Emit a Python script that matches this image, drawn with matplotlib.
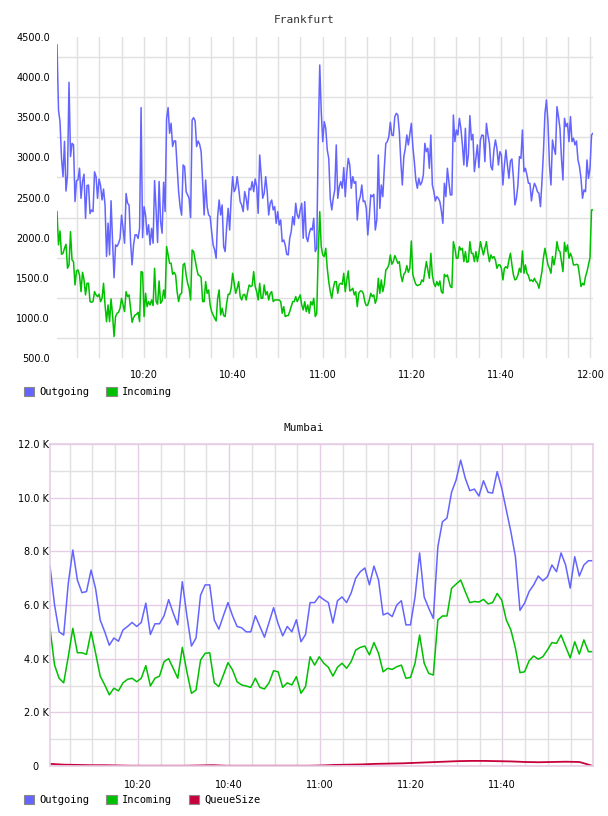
"""Frankfurt / Mumbai traffic charts (outgoing, incoming, queue size)."""

import matplotlib
matplotlib.use("Agg")
import matplotlib.pyplot as plt
import matplotlib.dates as mdates
from matplotlib.patches import Patch
from matplotlib.ticker import FixedLocator, MultipleLocator, FuncFormatter
import numpy as np
import pandas as pd

# ── data ────────────────────────────────────────────────────────────
FRA_START, FRA_END = "2024-01-01 10:00:31", "2024-01-01 12:00:35"
BOM_START, BOM_END = "2024-01-01 10:00:40", "2024-01-01 11:59:55"

fra_outgoing = [
    4400, 3590, 3445, 2990, 2760, 3200, 2580, 2780, 3935, 3010,
    3175, 3155, 2450, 2710, 2720, 2865, 2490, 2700, 2790, 2240,
    2650, 2655, 2300, 2345, 2325, 2820, 2760, 2490, 2730, 2650,
    2470, 2605, 2405, 1765, 2180, 1785, 2460, 1950, 1500, 1910,
    1890, 1930, 1990, 2280, 2115, 1930, 2550, 2430, 2405, 1950,
    1660, 1910, 2035, 2035, 1990, 2115, 3620, 2000, 2385, 2280,
    2035, 2160, 1910, 2115, 1930, 2710, 2345, 1940, 2700, 2200,
    2055, 2690, 2325, 3485, 3620, 3300, 3425, 3135, 3205, 3205,
    2885, 2575, 2385, 2280, 2905, 2885,
    2573, 2532, 2490, 2249, 3466, 3495, 3454, 3134, 3204, 3163,
    3071, 2698, 2282, 2718, 2386, 2282, 2262, 2075, 1909, 1846,
    1743, 2262, 2469, 2282, 2407, 1888, 1826, 2137, 2365, 2095,
    2490, 2760, 2573, 2615, 2760, 2615, 2448, 2407, 2324, 2573,
    2490, 2345, 2615, 2594, 2698, 2573, 2731, 2636, 2303, 3030,
    2781, 2490, 2552, 2760, 2573, 2282, 2428, 2469, 2345, 2386,
    2179, 2324, 2158, 2220, 1950, 1971, 1909, 1792, 1784, 1992,
    2075, 2262, 2158, 2428, 2282, 2241, 2345, 2428, 1992, 2448,
    2013, 1950, 2054, 2116, 2095, 2241, 1826, 1867, 3238, 4151,
    3570, 3196, 3445, 3362, 3092, 2988, 2490, 2345, 2490, 2594,
    3155, 2490, 2636, 2698, 2615, 2872, 2511, 2801, 2988, 2905,
    2615, 2760, 2677, 2698, 2220, 2448, 2511, 2656, 2448, 2457,
    2365, 2033, 2262, 2532, 2511, 2540, 2095, 2220, 3030, 2365,
    2656, 2511, 2864, 3175, 3196, 3258, 3437, 3279, 3271, 3508,
    3549, 3528, 3321, 2947, 2656, 3009, 3113, 3279, 3155, 3287,
    3424, 3134, 2947, 2718, 2615, 2739, 2656, 2689, 2781, 3175,
    3071, 3113, 2864, 3279, 2656, 2573, 2457, 2511, 2490, 2448,
    2332, 2179, 2677, 2511, 2864, 2698, 2532, 2532, 3528, 3196,
    3341, 3279, 3487, 3362, 3155, 2905, 3362, 2885, 3030, 3520,
    3217, 3287, 2822, 2988, 3155, 2872, 3217, 3279, 3271, 2947,
    3424, 3279, 3175, 2885, 2843, 3092, 3217, 3113, 2905, 3071,
    3030, 2656, 2905, 3092, 2905, 2739, 2955, 2980, 2739, 2407,
    2490, 2656, 3009, 2988, 3341, 2822, 2864, 2781, 2677, 2677,
    2457, 2594, 2677, 2636, 2573, 2552, 2386, 2698, 3071, 3549,
    3715, 3445, 2905, 2656, 3217, 3113, 3038, 3632, 3508, 3362,
    2988, 2718, 3487, 3383, 3424, 3196, 3508, 3196, 3238, 3155,
    3204, 2968, 2885, 2739, 2490, 2594, 2573, 2968, 2739, 2864,
    3279, 3300,
]

fra_incoming = [
    2324, 1910, 2083, 1792, 1805, 1867, 1917, 1618, 1660, 2075,
    1722, 1701, 1410, 1585, 1597, 1535, 1327, 1568, 1473, 1286,
    1431, 1431, 1203, 1194, 1203, 1327, 1286, 1265, 1294, 1203,
    1244, 1431, 1161, 953, 1161, 953, 1236, 1036, 767, 1016,
    1057, 1070, 1120, 1244, 1161, 1078, 1327, 1265, 1286, 1120,
    945, 1003, 1036, 1045, 1070, 953, 1576, 1568, 1016, 1306,
    1140, 1203, 1161, 1223, 1153, 1618, 1203, 1170, 1460, 1182,
    1211, 1348, 1244, 1888, 1784, 1680, 1680, 1543, 1568, 1535,
    1327, 1203, 1294, 1306, 1660, 1680,
    1535, 1431, 1369, 1223, 1846, 1826, 1722, 1618, 1535, 1527,
    1502, 1203, 1203, 1452, 1306, 1348, 1161, 1078, 1036, 995,
    962, 1244, 1348, 1036, 1120, 1028, 1016, 1182, 1294, 1294,
    1369, 1556, 1431, 1306, 1369, 1452, 1265, 1223, 1286, 1294,
    1223, 1327, 1410, 1390, 1402, 1576, 1390, 1327, 1223, 1431,
    1244, 1244, 1410, 1286, 1327, 1223, 1306, 1327, 1203, 1223,
    1223, 1223, 1223, 1203, 1057, 1140, 1016, 1028, 1028, 1078,
    1140, 1203, 1203, 1265, 1203, 1244, 1286, 1161, 1099, 1203,
    1078, 1161, 1057, 1203, 1161, 1244, 1016, 1057, 1826, 2324,
    1888, 1784, 1764, 1867, 1618, 1452, 1327, 1244, 1369, 1452,
    1452, 1306, 1418, 1431, 1418, 1556, 1327, 1473, 1585, 1335,
    1348, 1369, 1286, 1327, 1140, 1306, 1335, 1335, 1306, 1203,
    1153, 1161, 1223, 1306, 1265, 1286, 1182, 1244, 1493, 1306,
    1473, 1327, 1418, 1597, 1618, 1660, 1784, 1668, 1701, 1776,
    1734, 1680, 1701, 1535, 1452, 1543, 1568, 1651, 1568, 1618,
    1958, 1543, 1473, 1418, 1402, 1410, 1418, 1473, 1452, 1576,
    1701, 1597, 1493, 1805, 1535, 1431, 1390, 1452, 1402, 1460,
    1327, 1306, 1543, 1514, 1535, 1460, 1390, 1377, 1950, 1867,
    1743, 1743, 1888, 1846, 1867, 1701, 1826, 1693, 1701, 1950,
    1805, 1805, 1701, 1826, 1701, 1805, 1950, 1867, 1784, 1867,
    1950, 1805, 1701, 1784, 1743, 1764, 1722, 1618, 1660, 1660,
    1618, 1473, 1618, 1639, 1618, 1722, 1805, 1660, 1535, 1473,
    1485, 1535, 1618, 1568, 1834, 1556, 1660, 1556, 1527, 1460,
    1473, 1452, 1493, 1452, 1431, 1369, 1473, 1576, 1751, 1867,
    1764, 1660, 1618, 1556, 1764, 1660, 1764, 1950, 1846, 1826,
    1701, 1576, 1942, 1826, 1909, 1743, 1805, 1751, 1660, 1660,
    1668, 1660, 1535, 1390, 1431, 1410, 1514, 1576, 1660, 1750,
    2345, 2345,
]

# Mumbai, in thousands (K)
bom_outgoing = [
    7.45, 6.0, 5.0, 4.88, 6.8, 8.05, 6.93, 6.46, 6.5, 7.3,
    6.6, 5.44, 5.0, 4.5, 4.77, 4.65, 5.07, 5.2, 5.35, 5.2,
    5.35, 6.07, 4.9, 5.3, 5.3, 5.6, 6.2, 5.7, 5.26, 6.87,
    5.6, 4.47, 4.77, 6.37, 6.75, 6.75, 5.44, 5.1, 5.6, 6.09,
    5.6, 5.2, 5.15, 5.0, 5.0, 5.6, 5.2, 4.8, 5.35, 5.9,
    5.3, 4.85, 5.2, 5.0, 5.45, 4.63, 4.9, 6.09, 6.09, 6.33,
    6.2, 6.09, 5.33, 6.16, 6.3, 6.09, 6.45, 7.0, 7.24, 7.38,
    6.75, 7.45, 6.93, 5.63, 5.7, 5.57, 6.0, 6.16, 5.26, 5.26,
    6.3, 7.94, 6.3, 5.88, 5.5, 8.17, 9.1, 9.24, 10.2, 10.66,
    11.4, 10.73, 10.26, 10.32, 10.06, 10.63, 10.2, 10.17, 10.97, 10.35,
    9.54, 8.73, 7.8, 5.8, 6.07, 6.5, 6.75, 7.08, 6.9, 7.05,
    7.49, 7.24, 7.94, 7.49, 6.63, 7.8, 7.08, 7.49, 7.65, 7.65,
]

bom_incoming = [
    5.13, 3.76, 3.27, 3.1, 4.07, 5.13, 4.22, 4.22, 4.16, 5.0,
    4.2, 3.35, 3.02, 2.65, 2.9, 2.8, 3.1, 3.23, 3.27, 3.14,
    3.27, 3.74, 2.98, 3.27, 3.35, 3.89, 4.0, 3.64, 3.27, 4.42,
    3.51, 2.71, 2.83, 3.95, 4.2, 4.22, 3.1, 2.96, 3.39, 3.85,
    3.58, 3.14, 3.02, 2.98, 2.93, 3.27, 2.93, 2.87, 3.1, 3.55,
    3.51, 2.93, 3.1, 3.02, 3.33, 2.71, 2.96, 4.07, 3.76, 4.07,
    3.83, 3.68, 3.35, 3.68, 3.83, 3.64, 3.89, 4.32, 4.42, 4.47,
    4.14, 4.6, 4.2, 3.51, 3.64, 3.6, 3.7, 3.76, 3.27, 3.3,
    3.83, 4.88, 3.83, 3.45, 3.39, 5.44, 5.59, 5.59, 6.62, 6.78,
    6.93, 6.5, 6.09, 6.13, 6.11, 6.21, 6.04, 6.09, 6.43, 6.18,
    5.44, 5.07, 4.39, 3.48, 3.51, 3.92, 4.1, 3.98, 4.07, 4.32,
    4.6, 4.57, 4.88, 4.45, 4.03, 4.63, 4.17, 4.7, 4.26, 4.26,
]

bom_queue = [
    0.08, 0.05, 0.04, 0.03, 0.03, 0.02, 0.01, 0.01, 0.01, 0.01,
    0.01, 0.02, 0.03, 0.01, 0.01, 0.01, 0.01, 0.01, 0.01, 0.01,
    0.02, 0.04, 0.05, 0.06, 0.08, 0.09, 0.10, 0.12, 0.14, 0.16,
    0.18, 0.19, 0.19, 0.18, 0.17, 0.15, 0.14, 0.15, 0.16, 0.15,
    0.0,
]

# ── style ───────────────────────────────────────────────────────────
BLUE = "#6464ff"
GREEN = "#00c000"
RED = "#c8003c"
GRID = "#e0e0e0"
PURPLE = "#e6cde6"
MONO = "DejaVu Sans Mono"
TICK_FS = 7
LW = 1.1


def times(start, end, n):
    return pd.date_range(start, end, periods=n).to_pydatetime()


def legend(fig, colors, names, y):
    handles = [Patch(facecolor=c, edgecolor="#8a8a8a", lw=0.8, label=n)
               for c, n in zip(colors, names)]
    fig.legend(handles=handles, loc="center left", bbox_to_anchor=(24 / 608, y),
               ncol=len(handles), frameon=False, borderpad=0, borderaxespad=0,
               handlelength=1.0, handleheight=1.0, handletextpad=0.5,
               columnspacing=1.6, prop={"family": MONO, "size": 7.5})


def main():
    fig = plt.figure(figsize=(6.08, 8.16), dpi=100)

    # ── Frankfurt ─────────────────────────────────────────────────
    ax = fig.add_axes([57 / 608, 1 - 358 / 816, 536 / 608, 321 / 816])
    ax.plot(times(FRA_START, FRA_END, len(fra_outgoing)), fra_outgoing,
            color=BLUE, lw=LW)
    ax.plot(times(FRA_START, FRA_END, len(fra_incoming)), fra_incoming,
            color=GREEN, lw=LW)
    ax.set_xlim(pd.Timestamp(FRA_START), pd.Timestamp(FRA_END))
    ax.set_ylim(500, 4500)
    ax.yaxis.set_major_locator(MultipleLocator(500))
    ax.yaxis.set_major_formatter(FuncFormatter(lambda v, p: f"{v:.1f}"))
    ax.yaxis.set_minor_locator(FixedLocator(np.arange(750, 4500, 500)))
    ax.xaxis.set_major_locator(mdates.MinuteLocator(byminute=[0, 20, 40]))
    ax.xaxis.set_minor_locator(mdates.MinuteLocator(byminute=range(0, 60, 5)))
    ax.xaxis.set_major_formatter(mdates.DateFormatter("%H:%M"))
    ax.grid(which="minor", axis="y", color=GRID, lw=1)
    ax.grid(which="both", axis="x", color=GRID, lw=1)
    ax.set_axisbelow(True)
    ax.tick_params(which="both", length=0, labelsize=TICK_FS)
    ax.tick_params(axis="y", pad=5)
    ax.tick_params(axis="x", pad=9)
    for s in ax.spines.values():
        s.set_visible(False)
    fig.text(304 / 608, 1 - 20 / 816, "Frankfurt", ha="center", va="center",
             family=MONO, fontsize=8, color="#333333")
    legend(fig, [BLUE, GREEN], ["Outgoing", "Incoming"], 1 - 392 / 816)

    # ── Mumbai ────────────────────────────────────────────────────
    ax2 = fig.add_axes([50 / 608, 1 - 766 / 816, 543 / 608, 322 / 816])
    ax2.plot(times(BOM_START, BOM_END, len(bom_outgoing)),
             np.array(bom_outgoing) * 1000, color=BLUE, lw=LW)
    ax2.plot(times(BOM_START, BOM_END, len(bom_incoming)),
             np.array(bom_incoming) * 1000, color=GREEN, lw=LW)
    ax2.plot(times(BOM_START, BOM_END, len(bom_queue)),
             np.array(bom_queue) * 1000, color=RED, lw=LW + 0.2)
    ax2.set_xlim(pd.Timestamp(BOM_START), pd.Timestamp(BOM_END))
    ax2.set_ylim(0, 12000)
    ax2.yaxis.set_major_locator(MultipleLocator(2000))
    ax2.yaxis.set_minor_locator(MultipleLocator(1000))
    ax2.yaxis.set_major_formatter(FuncFormatter(
        lambda v, p: "0   " if v == 0 else f"{v / 1000:.1f} K"))
    ax2.xaxis.set_major_locator(mdates.MinuteLocator(byminute=[0, 20, 40]))
    ax2.xaxis.set_minor_locator(mdates.MinuteLocator(byminute=range(0, 60, 5)))
    ax2.xaxis.set_major_formatter(mdates.DateFormatter("%H:%M"))
    ax2.grid(which="major", color=PURPLE, lw=1)
    ax2.grid(which="minor", color=GRID, lw=1)
    ax2.set_axisbelow(True)
    ax2.tick_params(which="both", length=0, labelsize=TICK_FS)
    ax2.tick_params(axis="y", pad=1)
    ax2.tick_params(axis="x", pad=10)
    for s in ax2.spines.values():
        s.set_color(PURPLE)
        s.set_linewidth(1.2)
    fig.text(304 / 608, 1 - 428 / 816, "Mumbai", ha="center", va="center",
             family=MONO, fontsize=8, color="#111111")
    legend(fig, [BLUE, GREEN, RED], ["Outgoing", "Incoming", "QueueSize"],
           1 - 800 / 816)

    fig.savefig("out.png", dpi=100)
    plt.close(fig)


if __name__ == "__main__":
    main()
